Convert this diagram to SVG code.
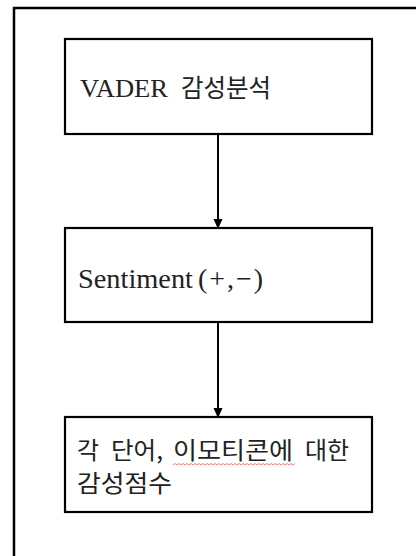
<svg xmlns="http://www.w3.org/2000/svg" width="416" height="556" viewBox="0 0 416 556">
<style>
.box{fill:#fff;stroke:#000;stroke-width:2.2}
.lat{font-family:"Liberation Serif","Noto Sans CJK KR",serif;fill:#222}
.kr{font-family:"Noto Sans CJK KR","Liberation Sans",sans-serif;fill:#222}
.edge{stroke:#000;stroke-width:2;fill:none}
</style>
<defs>
<marker id="ah" markerUnits="userSpaceOnUse" markerWidth="10" markerHeight="11" refX="9" refY="4.5" orient="auto">
<path d="M0,0 L10,4.5 L0,9 Z" fill="#000"/>
</marker>
</defs>
<rect width="416" height="556" fill="#fff"/>
<path d="M14,556 V8 H416" fill="none" stroke="#000" stroke-width="2.5"/>
<g id="connectors">
<line class="edge" x1="218" y1="135" x2="218" y2="228" marker-end="url(#ah)"/>
<line class="edge" x1="218" y1="323" x2="218" y2="417" marker-end="url(#ah)"/>
</g>
<g id="node-vader">
<rect class="box" x="65" y="39" width="307" height="95"/>
<text class="lat" x="80" y="97" font-size="26" textLength="88" lengthAdjust="spacingAndGlyphs">VADER</text>
<text class="kr" x="181" y="97" font-size="25" textLength="90" lengthAdjust="spacingAndGlyphs">감성분석</text>
</g>
<g id="node-sentiment">
<rect class="box" x="65" y="228" width="307" height="94"/>
<text class="lat" x="78" y="288" font-size="28" textLength="115" lengthAdjust="spacingAndGlyphs">Sentiment</text>
<text class="lat" x="198" y="288" font-size="28" textLength="65" lengthAdjust="spacing">(+,−)</text>
</g>
<g id="node-score">
<rect class="box" x="65" y="417" width="307" height="95"/>
<text class="kr" y="459" font-size="24"><tspan x="77" textLength="22" lengthAdjust="spacingAndGlyphs">각</tspan><tspan x="111" textLength="52" lengthAdjust="spacingAndGlyphs">단어,</tspan><tspan x="173" textLength="120" lengthAdjust="spacingAndGlyphs">이모티콘에</tspan><tspan x="305" textLength="44" lengthAdjust="spacingAndGlyphs">대한</tspan></text>
<text class="kr" x="77" y="492" font-size="24" textLength="95" lengthAdjust="spacingAndGlyphs">감성점수</text>
<path d="M173,465 l2,-1.5 l2,1.5 l2,-1.5 l2,1.5 l2,-1.5 l2,1.5 l2,-1.5 l2,1.5 l2,-1.5 l2,1.5 l2,-1.5 l2,1.5 l2,-1.5 l2,1.5 l2,-1.5 l2,1.5 l2,-1.5 l2,1.5 l2,-1.5 l2,1.5 l2,-1.5 l2,1.5 l2,-1.5 l2,1.5 l2,-1.5 l2,1.5 l2,-1.5 l2,1.5 l2,-1.5 l2,1.5 l2,-1.5 l2,1.5 l2,-1.5 l2,1.5 l2,-1.5 l2,1.5 l2,-1.5 l2,1.5 l2,-1.5 l2,1.5 l2,-1.5 l2,1.5 l2,-1.5 l2,1.5 l2,-1.5 l2,1.5 l2,-1.5 l2,1.5 l2,-1.5 l2,1.5 l2,-1.5 l2,1.5 l2,-1.5 l2,1.5 l2,-1.5 l2,1.5 l2,-1.5 l2,1.5 l2,-1.5 l2,1.5 l2,-1.5" fill="none" stroke="#e06060" stroke-width="0.8"/>
</g>
</svg>
